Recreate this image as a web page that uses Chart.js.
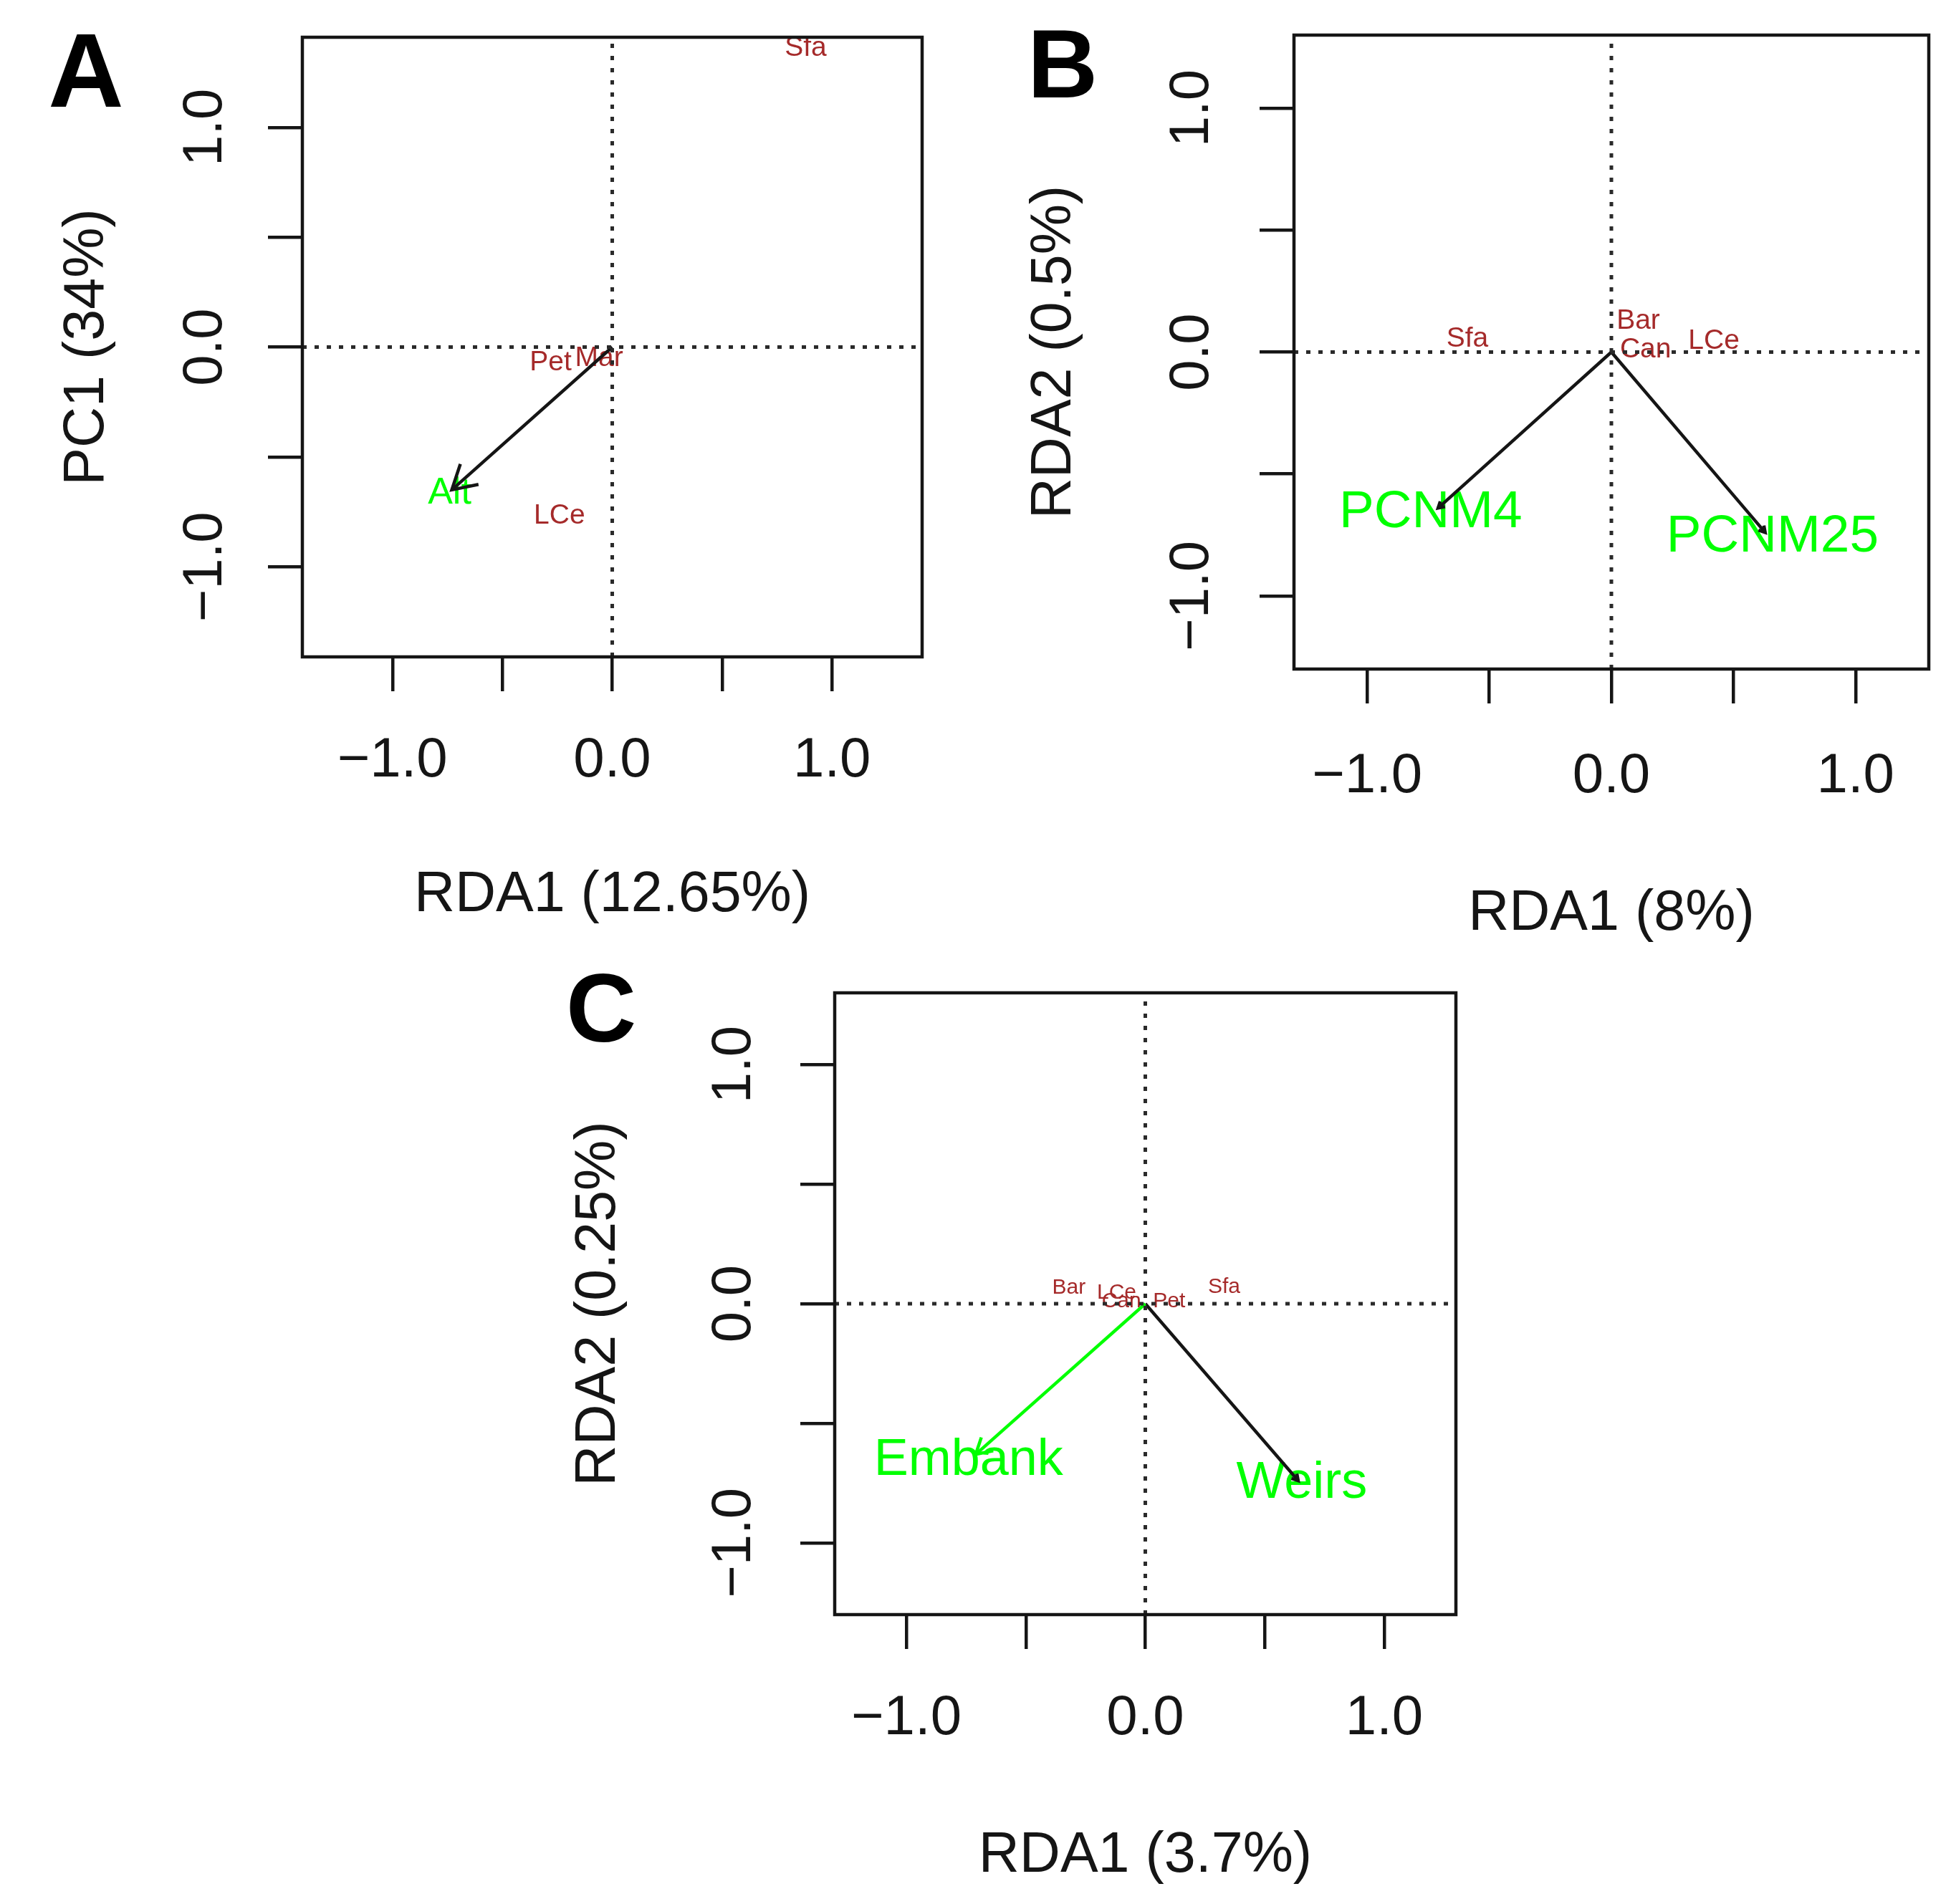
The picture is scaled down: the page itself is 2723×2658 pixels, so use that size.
<!DOCTYPE html>
<html>
<head>
<meta charset="utf-8">
<script src="https://cdn.jsdelivr.net/npm/chart.js@4.4.0/dist/chart.umd.min.js"></script>
<style>
  body { margin: 0; background: #fff; }
  #page { position: relative; width: 2723px; height: 2658px; background: #fff; overflow: hidden; }
  canvas { position: absolute; }
  .tag { position: absolute; font: bold 136px "Liberation Sans", Arial, sans-serif; line-height: 1; transform: translate(-50%, -50%); color: #000; }
</style>
</head>
<body>
<div id="page">
  <div class="tag" style="left:120px;top:99px;font-size:146px">A</div>
  <div class="tag" style="left:1483px;top:89px">B</div>
  <div class="tag" style="left:839px;top:1407px">C</div>
  <canvas id="panelA" width="1340" height="1330" style="left:0;top:0"></canvas>
  <canvas id="panelB" width="1343" height="1330" style="left:1380px;top:0"></canvas>
  <canvas id="panelC" width="1400" height="1328" style="left:740px;top:1330px"></canvas>
</div>
<script>
// axis ticks, same on every panel
const tickValues = [-1, -0.5, 0, 0.5, 1];
const tickLabels = ['\u22121.0', '', '0.0', '', '1.0'];

// A - species scores and the one fitted variable
const aSpecies = ['Sfa', 'Pet', 'Mar', 'LCe'];
const aSpeciesX = [0.88, -0.28, -0.06, -0.24];
const aSpeciesY = [1.36, -0.07, -0.05, -0.77];
const aEnv = ['Alt'];
const aArrowX = [-0.73];
const aArrowY = [-0.65];
const aEnvLabelX = [-0.74];
const aEnvLabelY = [-0.665];

// B
const bSpecies = ['Sfa', 'Bar', 'Can', 'LCe'];
const bSpeciesX = [-0.59, 0.11, 0.14, 0.42];
const bSpeciesY = [0.053, 0.126, 0.009, 0.044];
const bEnv = ['PCNM4', 'PCNM25'];
const bArrowX = [-0.71, 0.63];
const bArrowY = [-0.64, -0.74];
const bEnvLabelX = [-0.74, 0.66];
const bEnvLabelY = [-0.66, -0.76];

// C
const cSpecies = ['Bar', 'LCe', 'Can', 'Pet', 'Sfa'];
const cSpeciesX = [-0.32, -0.12, -0.10, 0.10, 0.33];
const cSpeciesY = [0.066, 0.045, 0.009, 0.009, 0.069];
const cEnv = ['Embank', 'Weirs'];
const cArrowX = [-0.71, 0.64];
const cArrowY = [-0.63, -0.74];
const cEnvLabelX = [-0.74, 0.655];
const cEnvLabelY = [-0.656, -0.751];

const family = '"Liberation Sans", Arial, Helvetica, sans-serif';
const ink = '#151515';
const speciesCol = '#A52A2A';
const envCol = '#00FF00';

function makePanel(p) {
  const datasets = [
    { data: [{ x: -p.lim, y: 0 }, { x: p.lim, y: 0 }] },
    { data: [{ x: 0, y: -p.lim }, { x: 0, y: p.lim }] }
  ].map(d => Object.assign(d, { showLine: true, pointRadius: 0, borderColor: '#2a2a2a', borderWidth: 5, borderDash: [6, 11], clip: 0 }));

  p.env.forEach((name, i) => {
    datasets.push({
      label: name,
      data: [{ x: 0, y: 0 }, { x: p.arrowX[i], y: p.arrowY[i] }],
      showLine: true, pointRadius: 0, borderColor: p.arrowCol[i], borderWidth: 4.5, clip: 0
    });
  });

  const fixTicks = s => { s.ticks = tickValues.map(v => ({ value: v })); };
  const grid = { drawOnChartArea: false, drawTicks: true, tickLength: 48, color: ink, lineWidth: 4.5 };

  const biplot = {
    id: 'biplot',
    beforeDatasetsDraw(chart) {
      const { ctx, chartArea: a, scales: { x, y } } = chart;
      ctx.save();
      ctx.beginPath();
      ctx.rect(a.left, a.top, a.right - a.left, a.bottom - a.top);
      ctx.clip();
      ctx.textAlign = 'center';
      ctx.textBaseline = 'middle';
      ctx.fillStyle = speciesCol;
      ctx.font = p.spSize + 'px ' + family;
      p.species.forEach((s, i) => ctx.fillText(s, x.getPixelForValue(p.spX[i]), y.getPixelForValue(p.spY[i])));
      ctx.fillStyle = envCol;
      ctx.font = p.envSize + 'px ' + family;
      p.env.forEach((s, i) => ctx.fillText(s, x.getPixelForValue(p.labX[i]), y.getPixelForValue(p.labY[i])));
      ctx.restore();
    },
    afterDatasetsDraw(chart) {
      const { ctx, chartArea: a, scales: { x, y } } = chart;
      ctx.save();
      // arrow heads
      ctx.lineWidth = 4.5;
      p.env.forEach((s, i) => {
        const ox = x.getPixelForValue(0), oy = y.getPixelForValue(0);
        const tx = x.getPixelForValue(p.arrowX[i]), ty = y.getPixelForValue(p.arrowY[i]);
        const ang = Math.atan2(oy - ty, ox - tx);
        const h = p.head[i];
        ctx.strokeStyle = p.arrowCol[i];
        ctx.beginPath();
        ctx.moveTo(tx + h * Math.cos(ang + Math.PI / 6), ty + h * Math.sin(ang + Math.PI / 6));
        ctx.lineTo(tx, ty);
        ctx.lineTo(tx + h * Math.cos(ang - Math.PI / 6), ty + h * Math.sin(ang - Math.PI / 6));
        ctx.stroke();
      });
      // plot box
      ctx.strokeStyle = ink;
      ctx.lineWidth = 4.5;
      ctx.strokeRect(a.left, a.top, a.right - a.left, a.bottom - a.top);
      // y tick labels, turned like R draws them
      ctx.fillStyle = ink;
      ctx.font = '78px ' + family;
      ctx.textAlign = 'center';
      ctx.textBaseline = 'middle';
      tickValues.forEach((v, i) => {
        if (!tickLabels[i]) return;
        ctx.save();
        ctx.translate(a.left - p.yTickOff, y.getPixelForValue(v));
        ctx.rotate(-Math.PI / 2);
        ctx.fillText(tickLabels[i], 0, 0);
        ctx.restore();
      });
      ctx.restore();
    }
  };

  return new Chart(document.getElementById(p.id), {
    type: 'scatter',
    data: { datasets },
    plugins: [biplot],
    options: {
      responsive: false,
      devicePixelRatio: 1,
      animation: false,
      layout: { padding: { top: p.padTop, right: p.padRight, left: 0, bottom: 0 } },
      plugins: { legend: { display: false }, tooltip: { enabled: false } },
      scales: {
        x: {
          type: 'linear', min: -p.lim, max: p.lim,
          afterBuildTicks: fixTicks,
          afterFit: s => { s.height = p.xAxisH; },
          grid,
          border: { display: false },
          ticks: {
            autoSkip: false, maxRotation: 0, minRotation: 0, padding: p.xTickPad,
            color: ink, font: { size: 78, family },
            callback: (v, i) => tickLabels[i]
          },
          title: { display: true, text: p.xTitle, color: ink, font: { size: 79, family }, padding: { top: 0, bottom: p.xTitlePad } }
        },
        y: {
          type: 'linear', min: -p.lim, max: p.lim,
          afterBuildTicks: fixTicks,
          afterFit: s => { s.width = p.yAxisW; },
          grid,
          border: { display: false },
          ticks: { display: false },
          title: { display: true, text: p.yTitle, color: ink, font: { size: 79, family }, padding: { top: p.yTitlePad, bottom: 0 } }
        }
      }
    }
  });
}

makePanel({
  id: 'panelA', lim: 1.41, xTitle: 'RDA1 (12.65%)', yTitle: 'PC1 (34%)',
  species: aSpecies, spX: aSpeciesX, spY: aSpeciesY,
  env: aEnv, arrowX: aArrowX, arrowY: aArrowY, labX: aEnvLabelX, labY: aEnvLabelY,
  arrowCol: [ink], head: [38], spSize: 39, envSize: 52,
  padTop: 52, padRight: 53, yAxisW: 422, xAxisH: 413,
  xTickPad: 51, xTitlePad: 32, yTitlePad: 75, yTickOff: 135
});

makePanel({
  id: 'panelB', lim: 1.3, xTitle: 'RDA1 (8%)', yTitle: 'RDA2 (0.5%)',
  species: bSpecies, spX: bSpeciesX, spY: bSpeciesY,
  env: bEnv, arrowX: bArrowX, arrowY: bArrowY, labX: bEnvLabelX, labY: bEnvLabelY,
  arrowCol: [ink, ink], head: [10, 10], spSize: 39, envSize: 73,
  padTop: 49, padRight: 31, yAxisW: 426, xAxisH: 396,
  xTickPad: 56, xTitlePad: 6, yTitlePad: 45, yTickOff: 142
});

makePanel({
  id: 'panelC', lim: 1.3, xTitle: 'RDA1 (3.7%)', yTitle: 'RDA2 (0.25%)',
  species: cSpecies, spX: cSpeciesX, spY: cSpeciesY,
  env: cEnv, arrowX: cArrowX, arrowY: cArrowY, labX: cEnvLabelX, labY: cEnvLabelY,
  arrowCol: [envCol, ink], head: [25, 10], spSize: 30, envSize: 72,
  padTop: 56, padRight: 108, yAxisW: 425, xAxisH: 404,
  xTickPad: 51, xTitlePad: 19, yTitlePad: 49, yTickOff: 140
});
</script>
</body>
</html>
